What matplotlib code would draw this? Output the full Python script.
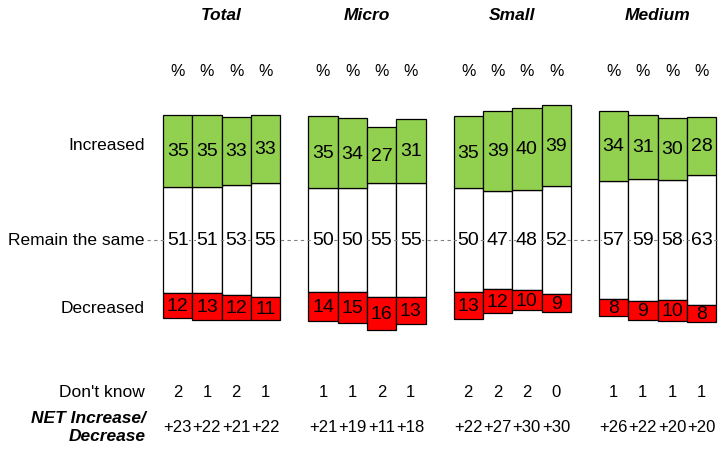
import numpy as np
import matplotlib.pyplot as plt

plt.rcParams['font.family'] = ['Liberation Sans', 'DejaVu Sans']

groups = ["Total", "Micro", "Small", "Medium"]
increased = [[35, 35, 33, 33], [35, 34, 27, 31], [35, 39, 40, 39], [34, 31, 30, 28]]
same = [[51, 51, 53, 55], [50, 50, 55, 55], [50, 47, 48, 52], [57, 59, 58, 63]]
decreased = [[12, 13, 12, 11], [14, 15, 16, 13], [13, 12, 10, 9], [8, 9, 10, 8]]
dont_know = [[2, 1, 2, 1], [1, 1, 2, 1], [2, 2, 2, 0], [1, 1, 1, 1]]
net = [["+23", "+22", "+21", "+22"], ["+21", "+19", "+11", "+18"],
       ["+22", "+27", "+30", "+30"], ["+26", "+22", "+20", "+20"]]

GREEN = "#92D050"
RED = "#FF0000"

fig = plt.figure(figsize=(7.19, 4.52), dpi=100)
ax = fig.add_axes([0, 0, 1, 1])
ax.set_xlim(0, 719)
s = 2.07  # px per percentage point
ax.set_ylim(-211 / s, 241 / s)
ax.axis("off")

def py(p):
    # pixel row from top -> data y
    return (241 - p) / s

# dashed midline, drawn over the bars
ax.plot([147, 719], [0, 0], ls=(0, (3, 3)), color="#808080", lw=0.8, zorder=2.5)

bw = 29.3
for g, name in enumerate(groups):
    x0 = 163 + g * 145.3
    xs = x0 + bw / 2 + np.arange(4) * bw
    half = np.array(same[g]) / 2
    inc = np.array(increased[g])
    dec = np.array(decreased[g])
    ax.bar(xs, same[g], bottom=-half, width=bw, color="white", edgecolor="black", lw=0.9, zorder=2)
    ax.bar(xs, inc, bottom=half, width=bw, color=GREEN, edgecolor="black", lw=0.9, zorder=2)
    ax.bar(xs, dec, bottom=-half - dec, width=bw, color=RED, edgecolor="black", lw=0.9, zorder=2)
    for i, x in enumerate(xs):
        ax.text(x, half[i] + inc[i] / 2, str(inc[i]), ha="center", va="center", fontsize=14, zorder=3)
        ax.text(x, 0, str(same[g][i]), ha="center", va="center", fontsize=14, zorder=3,
                bbox=dict(facecolor="white", edgecolor="none", pad=0.3))
        ax.text(x, -half[i] - dec[i] / 2, str(dec[i]), ha="center", va="center", fontsize=14, zorder=3)
        ax.text(x, py(72), "%", ha="center", va="center", fontsize=11.5)
        ax.text(x, py(393), str(dont_know[g][i]), ha="center", va="center", fontsize=12)
        ax.text(x, py(428), net[g][i], ha="center", va="center", fontsize=12)
    ax.text(xs.mean(), py(15), name, ha="center", va="center", fontsize=12.5,
            fontweight="bold", fontstyle="italic")

ax.text(145, py(145), "Increased", ha="right", va="center", fontsize=12.5)
ax.text(145, 0, "Remain the same", ha="right", va="center", fontsize=12.5)
ax.text(145, py(309), "Decreased", ha="right", va="center", fontsize=12.5)
ax.text(145, py(393), "Don't know", ha="right", va="center", fontsize=12.5)
ax.text(146, py(428), "NET Increase/\nDecrease", ha="right", va="center", fontsize=12.5,
        fontweight="bold", fontstyle="italic", linespacing=1.25)

fig.savefig("out.png", dpi=100)
